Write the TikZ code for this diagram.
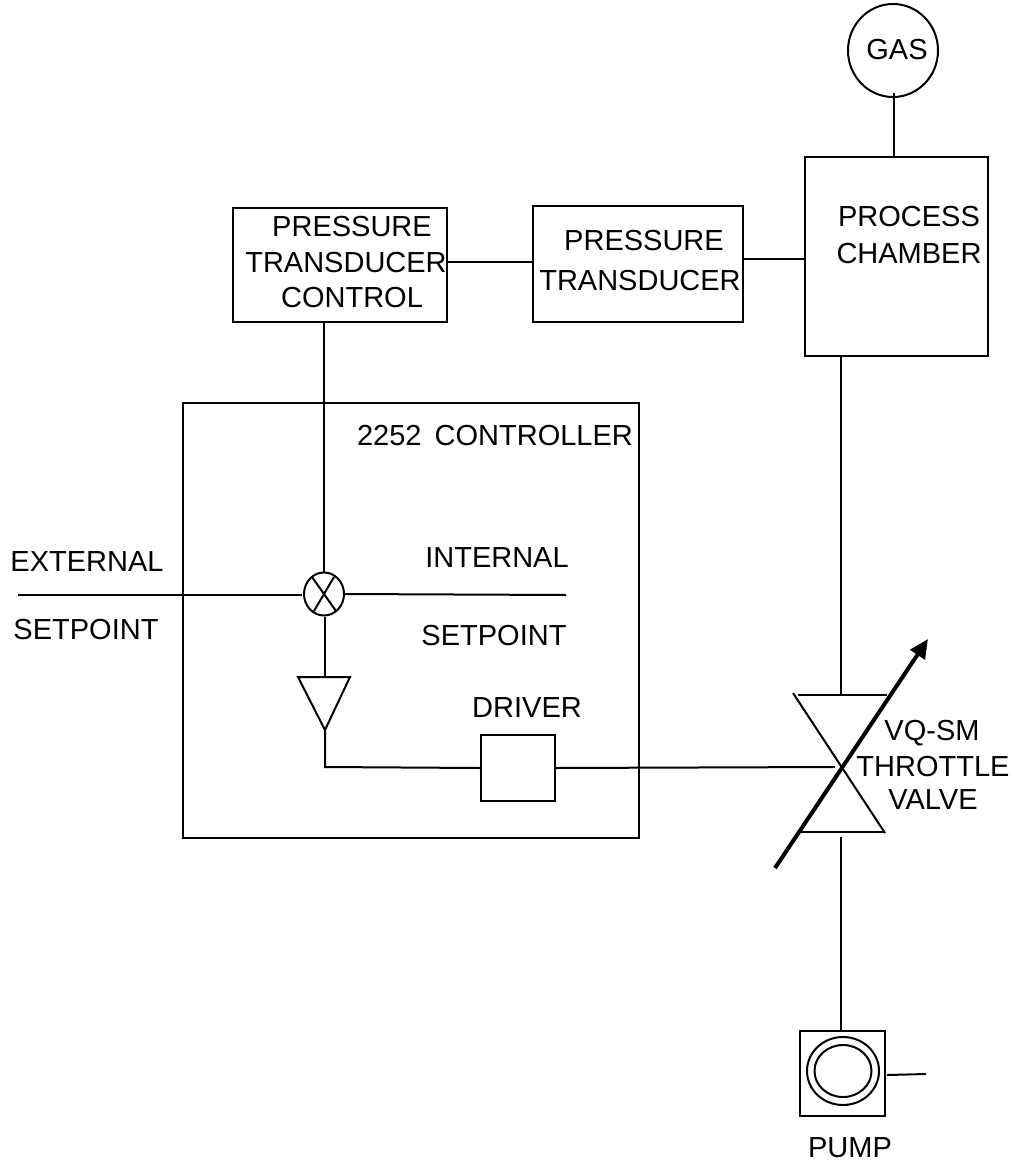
\documentclass[tikz,border=0pt]{standalone}
\usepackage{fontspec}
\setmainfont{Liberation Sans}
\usetikzlibrary{shapes.geometric,arrows.meta}
\tikzset{
  boxn/.style={draw,line width=2pt,inner sep=0pt,minimum width=#1},
  lbl/.style={font=\fontsize{29}{31}\selectfont,inner sep=0pt,anchor=center},
  wire/.style={line width=2pt},
  oval/.style={draw,ellipse,line width=2pt,inner sep=0pt}
}
\begin{document}
\begin{tikzpicture}[x=1pt,y=-1pt]
\useasboundingbox (0,0) rectangle (1013,1167);
% boxes
\node[boxn=214pt,minimum height=114pt] (ptc) at (340,265) {};
\node[boxn=210pt,minimum height=116pt] (pt) at (638,264) {};
\node[boxn=183pt,minimum height=199pt] (chamber) at (896.5,256.5) {};
\node[boxn=456pt,minimum height=435pt] (ctrl) at (411,620.5) {};
\node[boxn=74pt,minimum height=66pt] (driver) at (518,768) {};
\node[boxn=85pt,minimum height=85pt] (pumpbox) at (842.5,1073.5) {};
% circles
\node[oval,minimum width=90pt,minimum height=93pt] (gas) at (893,50.5) {};
\node[oval,minimum width=40pt,minimum height=43pt] (sum) at (324,594) {};
\node[oval,minimum width=72pt,minimum height=68pt] (pumpo) at (843,1071) {};
\node[oval,minimum width=57pt,minimum height=52pt] (pumpi) at (843,1071) {};
% coordinates
\coordinate (gasIn) at (894,93);
\coordinate (sumA) at (312,577);
\coordinate (sumB) at (336,611);
\coordinate (sumC) at (334,577);
\coordinate (sumD) at (314,611);
\coordinate (extL) at (18,595);
\coordinate (extR) at (302,595);
\coordinate (intL) at (345,594);
\coordinate (intR) at (566,595);
\coordinate (triTL) at (298,677);
\coordinate (triTR) at (350,677);
\coordinate (triB) at (325,730);
\coordinate (triTop) at (325,677);
\coordinate (bend) at (325,767);
\coordinate (vTL) at (793,693);
\coordinate (vBR) at (885,833);
\coordinate (vTa) at (798,695);
\coordinate (vTb) at (887,695);
\coordinate (vBa) at (800,832);
\coordinate (vBb) at (884,832);
\coordinate (vTm) at (841,695);
\coordinate (vBm) at (841,837);
\coordinate (vL) at (835,767);
\coordinate (arS) at (775,868);
\coordinate (arE) at (928,639);
\coordinate (pumpOut) at (887,1075);
\coordinate (pumpEnd) at (926,1074);
% connectors
\draw[wire] (gasIn) -- (chamber.north -| gasIn);
\draw[wire] (ptc.east |- 0,262) -- (pt.west |- 0,262);
\draw[wire] (pt.east |- 0,259) -- (chamber.west |- 0,259);
\draw[wire] (ptc.south -| 324,0) -- (sum.north -| 324,0);
\draw[wire] (extL) -- (extR);
\draw[wire] (intL) -- (intR);
\draw[wire] (sumA) -- (sumB);
\draw[wire] (sumC) -- (sumD);
\draw[wire] (sum.south -| triTop) -- (triTop);
\draw[wire] (triTL) -- (triTR) -- (triB) -- cycle;
\draw[wire] (triB) -- (bend) -- (driver.west);
\draw[wire] (driver.east) -- (vL);
\draw[wire] (chamber.south -| vTm) -- (vTm);
\draw[wire] (vBm) -- (pumpbox.north -| vBm);
\draw[wire] (vTL) -- (vBR);
\draw[line width=2.4pt] (vTa) -- (vTb);
\draw[line width=2.4pt] (vBa) -- (vBb);
\draw[line width=4pt,-{Triangle[length=19pt,width=17pt]}] (arS) -- (arE);
\draw[wire] (pumpOut) -- (pumpEnd);
% labels
\node[lbl] (tgas) at (897,50) {GAS};
\node[lbl] (t1) at (352,227) {PRESSURE};
\node[lbl] (t2) at (346,263) {TRANSDUCER};
\node[lbl] (t3) at (352,298) {CONTROL};
\node[lbl] (t4) at (644,241) {PRESSURE};
\node[lbl] (t5) at (640,281) {TRANSDUCER};
\node[lbl] (t6) at (909,217) {PROCESS};
\node[lbl] (t7) at (909,254) {CHAMBER};
\node[lbl] (t8) at (495,436) {2252\hspace{5pt} CONTROLLER};
\node[lbl] (t9) at (87,562) {EXTERNAL};
\node[lbl] (t10) at (86,630) {SETPOINT};
\node[lbl] (t11) at (497,558) {INTERNAL};
\node[lbl] (t12) at (494,636) {SETPOINT};
\node[lbl] (t13) at (527,708) {DRIVER};
\node[lbl] (t14) at (932,733) {VQ-SM};
\node[lbl] (t15) at (933,767) {THROTTLE};
\node[lbl] (t16) at (933,800) {VALVE};
\node[lbl] (t17) at (850,1148) {PUMP};
\end{tikzpicture}
\end{document}
